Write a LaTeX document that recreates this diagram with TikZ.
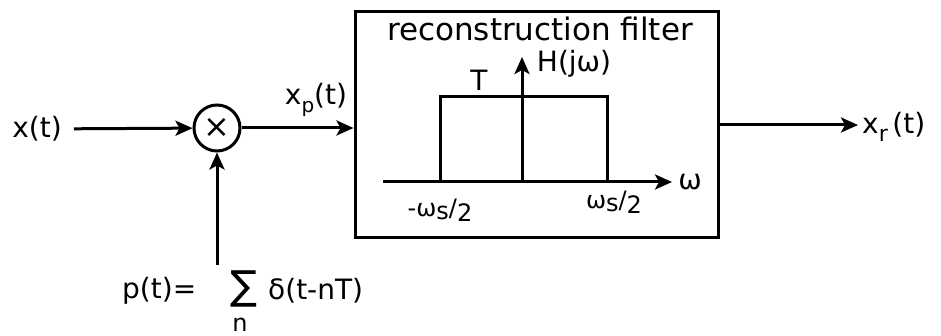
\documentclass[tikz,border=0pt]{standalone}
\usepackage{fontspec}
\setmainfont{DejaVu Sans}
\usetikzlibrary{arrows.meta}
\begin{document}
\begin{tikzpicture}[x=1pt,y=-1pt,
  lbl/.style={inner sep=0pt,font=\fontsize{28}{30}\selectfont},
  sml/.style={inner sep=0pt,font=\fontsize{24}{26}\selectfont},
  wire/.style={line width=3pt,-{Stealth[length=17pt,width=15pt,inset=4pt]}},
  plain/.style={line width=3pt}]
\useasboundingbox (0,0) rectangle (941,336);
% signals
\node[lbl] (x) at (37,129) {x(t)};
\node[draw,circle,line width=3pt,minimum size=46pt,inner sep=0pt,font=\fontsize{32}{34}\selectfont] (mul) at (217,128) {×};
\node[draw,line width=3pt,minimum width=363pt,minimum height=226pt,inner sep=0pt] (box) at (536.5,125) {};
\coordinate (boxin) at (box.west |- mul);
\coordinate (boxout) at (box.east |- 0,125);
\coordinate (yend) at (858,125);
\coordinate (pstart) at (217,265);
\node[lbl] (xp) at (316,100) {x\raisebox{-8pt}{\fontsize{20}{22}\selectfont p}(t)};
\node[lbl,anchor=west] (xr) at (862,127) {x\raisebox{-8pt}{\fontsize{22}{24}\selectfont r}\,(t)};
\draw[wire,shorten <=12pt] (x) -- (mul);
\draw[wire] (mul) -- (boxin);
\draw[wire] (boxout) -- (yend);
\draw[wire] (pstart) -- (mul);
% formula
\node[lbl,anchor=west] (peq) at (122,291) {p(t)=};
\node[inner sep=0pt,font=\fontsize{40}{42}\selectfont] (sum) at (244,289) {∑};
\node[sml] (n) at (240,325) {n};
\node[lbl,anchor=west] (delta) at (268,291) {δ(t-nT)};
% filter box contents
\node[inner sep=0pt,font=\fontsize{31}{33}\selectfont] (title) at (540,29) {reconstruction filter};
\coordinate (haxl) at (383,182);
\coordinate (haxr) at (672,182);
\coordinate (org) at (522,182);
\coordinate (vtop) at (522,57);
\draw[wire] (haxl) -- (haxr);
\draw[wire] (org) -- (vtop);
\coordinate (rl) at (440,182);
\coordinate (rr) at (607,182);
\draw[plain] (rl) -- (440,97) -- (607,97) -- (rr);
\node[lbl] (w) at (690,182) {ω};
\node[lbl] (T) at (479,80) {T};
\node[lbl] (H) at (574,64) {H(jω)};
\node[sml] (wl) at (440,210) {-ω\raisebox{-3pt}{s}/\raisebox{-5pt}{2}};
\node[sml] (wr) at (614,202) {ω\raisebox{-3pt}{s}/\raisebox{-5pt}{2}};
\end{tikzpicture}
\end{document}
